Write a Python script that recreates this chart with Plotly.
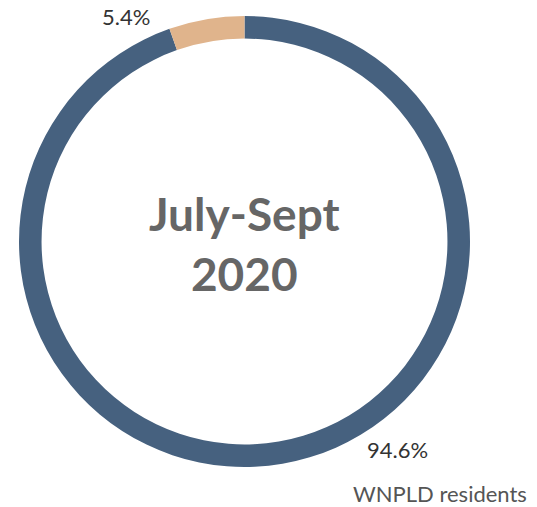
import plotly.graph_objects as go

# Share of visitors by residency, July-September 2020
groups = ["WNPLD residents", "Non-residents"]
shares = [94.6, 5.4]
colors = ["#46617f", "#e0b48c"]

W, H = 537, 507

fig = go.Figure(
    go.Pie(
        labels=groups,
        values=shares,
        hole=0.9,
        sort=False,
        direction="clockwise",
        rotation=0,
        marker=dict(colors=colors, line=dict(width=0)),
        textinfo="none",
        hoverinfo="label+percent",
        domain=dict(x=[19 / W, 470 / W], y=[(H - 467) / H, (H - 16) / H]),
        showlegend=False,
    )
)

pct_font = dict(family="Lato", size=22, color="#333333")


def note(px, py, text, font):
    fig.add_annotation(x=px / W, y=1 - py / H, xref="paper", yref="paper",
                       xanchor="center", yanchor="middle",
                       text=text, showarrow=False, font=font)


note(126, 17, f"{shares[1]}%", pct_font)
note(397, 449, f"{shares[0]}%", pct_font)
note(440, 493, groups[0], dict(family="Lato", size=22, color="#555555"))
note(244.5, 243, "<b>July-Sept<br>2020</b>",
     dict(family="Lato", size=46, color="#666666"))

fig.update_layout(
    width=W, height=H,
    margin=dict(l=0, r=0, t=0, b=0),
    paper_bgcolor="white",
    plot_bgcolor="white",
)

fig.write_html("out.html")
